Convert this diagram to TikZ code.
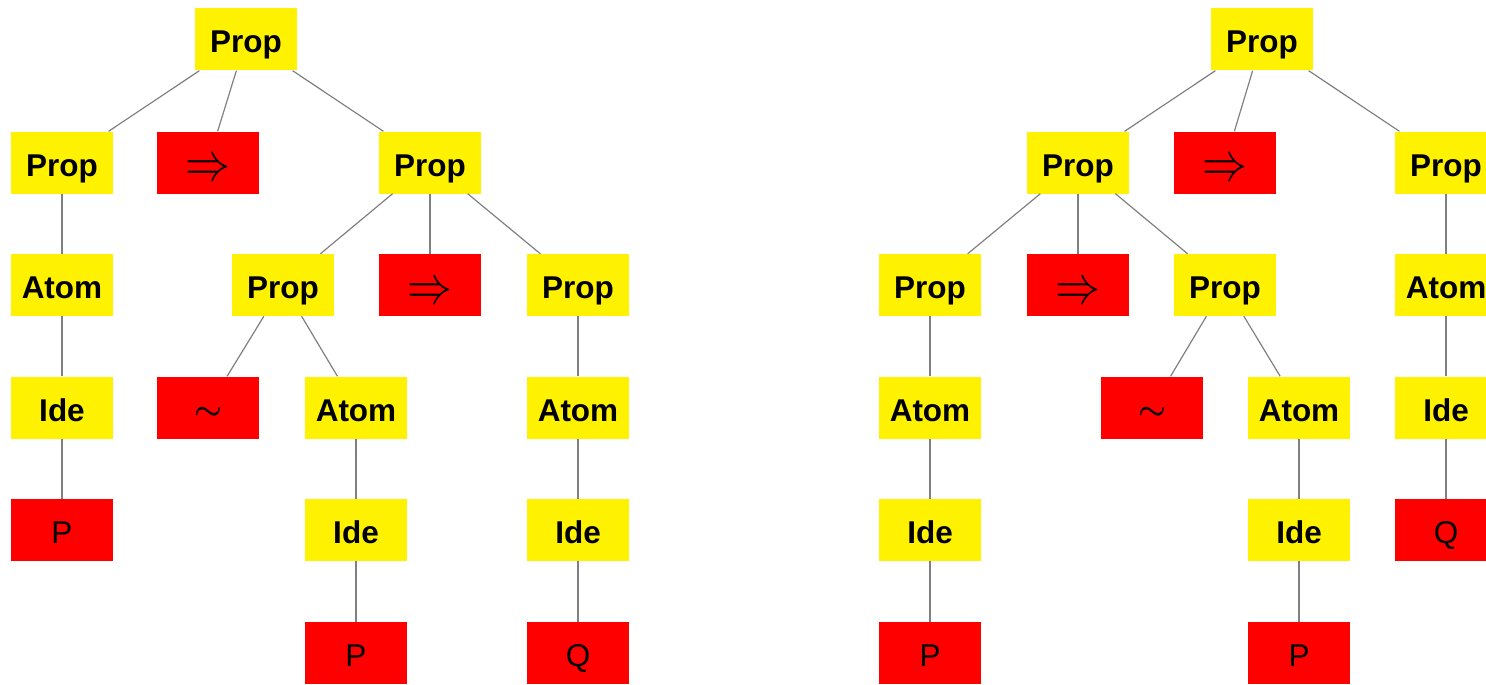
\documentclass[tikz,border=0pt]{standalone}
\usepackage{fontspec}
\setmainfont{Liberation Sans}
\newcommand{\impsym}{\raisebox{-18pt}{\scalebox{1}[1.2]{\resizebox{45pt}{!}{$\Rightarrow$}}}}
\newcommand{\negsym}{\raisebox{-11.5pt}{\resizebox{28pt}{!}{\boldmath$\sim$}}}
\begin{document}
\begin{tikzpicture}[x=1pt,y=-1pt,
  box/.style={minimum width=102pt,minimum height=62pt,inner sep=0pt,text height=30pt,text depth=3pt,font=\fontsize{31.5}{36}\selectfont},
  ybox/.style={box,fill=yellow,font=\fontsize{31.5}{36}\selectfont\bfseries},
  rbox/.style={box,fill=red},
  sbox/.style={rbox,text height=0pt,text depth=0pt,text width=102pt,align=center},
  edge/.style={draw=black!50,line width=1.2pt}]
\useasboundingbox (0,0) rectangle (1486,685);
% left tree
\node[ybox] (a) at (246,39.5) {Prop};
\node[ybox] (a1) at (62,162.5) {Prop};
\node[sbox] (a2) at (208,162.5) {\impsym};
\node[ybox] (a3) at (430,162.5) {Prop};
\node[ybox] (a11) at (62,285) {Atom};
\node[ybox] (a111) at (62,407.5) {Ide};
\node[rbox] (a1111) at (62,530) {P};
\node[ybox] (a31) at (283,285) {Prop};
\node[sbox] (a32) at (430,285) {\impsym};
\node[ybox] (a33) at (578,285) {Prop};
\node[sbox] (a311) at (208,407.5) {\negsym};
\node[ybox] (a312) at (356,407.5) {Atom};
\node[ybox] (a3121) at (356,530) {Ide};
\node[rbox] (a31211) at (356,653) {P};
\node[ybox] (a331) at (578,407.5) {Atom};
\node[ybox] (a3311) at (578,530) {Ide};
\node[rbox] (a33111) at (578,653) {Q};
\foreach \p/\c in {a/a1,a/a2,a/a3,a1/a11,a11/a111,a111/a1111,a3/a31,a3/a32,a3/a33,a31/a311,a31/a312,a312/a3121,a3121/a31211,a33/a331,a331/a3311,a3311/a33111}
  \draw[edge] (\p) -- (\c);
% right tree
\node[ybox] (b) at (1262,39.5) {Prop};
\node[ybox] (b1) at (1078,162.5) {Prop};
\node[sbox] (b2) at (1225,162.5) {\impsym};
\node[ybox] (b3) at (1446,162.5) {Prop};
\node[ybox] (b11) at (930,285) {Prop};
\node[sbox] (b12) at (1078,285) {\impsym};
\node[ybox] (b13) at (1225,285) {Prop};
\node[ybox] (b111) at (930,407.5) {Atom};
\node[ybox] (b1111) at (930,530) {Ide};
\node[rbox] (b11111) at (930,653) {P};
\node[sbox] (b131) at (1152,407.5) {\negsym};
\node[ybox] (b132) at (1299,407.5) {Atom};
\node[ybox] (b1321) at (1299,530) {Ide};
\node[rbox] (b13211) at (1299,653) {P};
\node[ybox] (b31) at (1446,285) {Atom};
\node[ybox] (b311) at (1446,407.5) {Ide};
\node[rbox] (b3111) at (1446,530) {Q};
\foreach \p/\c in {b/b1,b/b2,b/b3,b1/b11,b1/b12,b1/b13,b11/b111,b111/b1111,b1111/b11111,b13/b131,b13/b132,b132/b1321,b1321/b13211,b3/b31,b31/b311,b311/b3111}
  \draw[edge] (\p) -- (\c);
\end{tikzpicture}
\end{document}
